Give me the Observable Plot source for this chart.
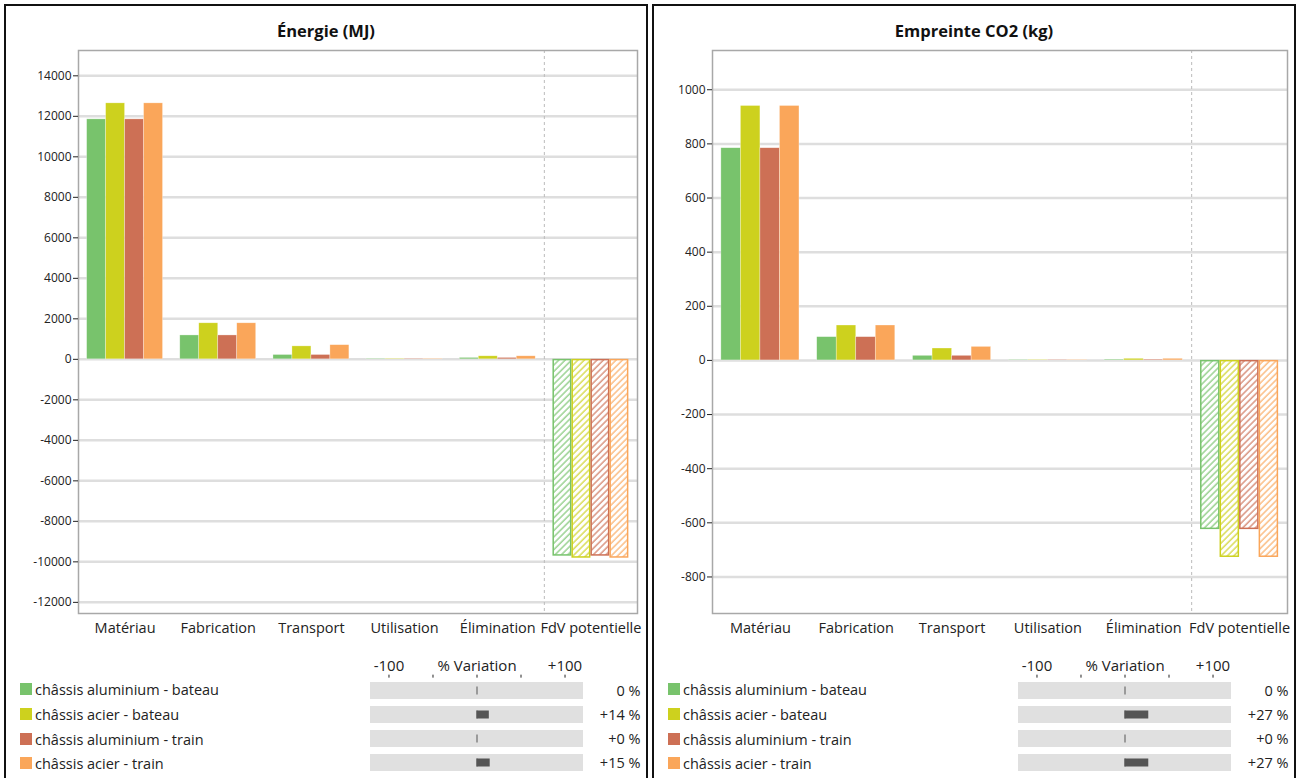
<!DOCTYPE html>
<html><head><meta charset="utf-8">
<script src="https://cdn.jsdelivr.net/npm/d3@7"></script>
<script src="https://cdn.jsdelivr.net/npm/@observablehq/plot@0.6"></script>
<style>
body{margin:0;background:#fff;width:1299px;height:778px;overflow:hidden;font-family:"Open Sans",sans-serif;}
.panel{position:absolute;top:4px;width:640px;height:800px;border:2px solid #111;box-sizing:content-box;}
.title{position:absolute;top:14px;left:0;width:640px;text-align:center;font-weight:bold;font-size:16.5px;line-height:22px;color:#111}
.chart{position:absolute;left:0;top:40px}
.legend{position:absolute;left:0;top:642px}
.row{position:absolute;left:14px;height:20px;font-size:14.5px;color:#222;display:flex;align-items:center;white-space:nowrap}
.sw{width:12px;height:12px;margin-right:3px;flex:none}
</style></head><body>
<div id="left" class="panel" style="left:4px"></div>
<div id="right" class="panel" style="left:652px"></div>
<script>
// ---- data ----
const categories = ["Matériau", "Fabrication", "Transport", "Utilisation", "Élimination", "FdV potentielle"];
const hatchedCategory = "FdV potentielle";
const series = ["châssis aluminium - bateau", "châssis acier - bateau", "châssis aluminium - train", "châssis acier - train"];
const colors = ["#78c36c", "#cdd11e", "#cd7055", "#faa65a"];

const energyAluBateau   = [11850, 1180, 215, 30, 70, -9720];
const energyAcierBateau = [12640, 1780, 640, 30, 150, -9820];
const energyAluTrain    = [11850, 1180, 215, 30, 70, -9720];
const energyAcierTrain  = [12640, 1780, 700, 30, 150, -9820];
const energyTicks = [-12000, -10000, -8000, -6000, -4000, -2000, 0, 2000, 4000, 6000, 8000, 10000, 12000, 14000];
const energyVariation = [0, 14, 0, 15];
const energyVariationLabels = ["0 %", "+14 %", "+0 %", "+15 %"];

const co2AluBateau   = [784, 86, 17, 2, 3, -625];
const co2AcierBateau = [940, 129, 44, 2, 6, -728];
const co2AluTrain    = [784, 86, 17, 2, 3, -625];
const co2AcierTrain  = [940, 129, 50, 2, 6, -728];
const co2Ticks = [-800, -600, -400, -200, 0, 200, 400, 600, 800, 1000];
const co2Variation = [0, 27, 0, 27];
const co2VariationLabels = ["0 %", "+27 %", "+0 %", "+27 %"];

const variationTicks = [-100, -50, 0, 50, 100];

// ---- drawing ----
function chart(id, values, yDomain, yTicks, mLeft, mRight) {
  const rows = [];
  series.forEach((s, i) => categories.forEach((c, j) => rows.push({series: s, si: i, cat: c, ci: j, value: values[i][j]})));
  const gw = 0.815, bw = gw / 4;
  const x1 = d => d.ci - gw / 2 + d.si * bw;
  const x2 = d => x1(d) + bw;
  const solid = rows.filter(d => d.cat !== hatchedCategory);
  const hatched = rows.filter(d => d.cat === hatchedCategory);
  const sepIndex = categories.indexOf(hatchedCategory) - 0.5;
  const svg = Plot.plot({
    width: 640, height: 600,
    marginLeft: mLeft, marginRight: mRight, marginTop: 4, marginBottom: 33,
    x: {domain: [-0.5, categories.length - 0.5], label: null},
    y: {domain: yDomain, label: null},
    color: {domain: series, range: colors},
    style: {fontFamily: "Open Sans, sans-serif", background: "white", overflow: "visible"},
    marks: [
      Plot.gridY(yTicks, {stroke: "#dedede", strokeWidth: 2.5, strokeOpacity: 1}),
      Plot.ruleX([sepIndex], {stroke: "#bbb", strokeDasharray: "3,3"}),
      Plot.rectY(solid, {x1, x2, y1: 0, y2: "value", fill: "series", stroke: "white", strokeOpacity: 0.5, strokeWidth: 0.6}),
      ...series.map((s, i) => Plot.rectY(hatched.filter(d => d.si === i), {
        x1, x2, y1: 0, y2: "value", fill: `url(#${id}-h${i})`, stroke: colors[i], strokeWidth: 1.5, inset: 0.75
      })),
      Plot.frame({stroke: "#a8a8a8", strokeWidth: 1.5}),
      Plot.axisY(yTicks, {tickSize: 5, tickPadding: 2, tickFormat: d => String(d), fontSize: 12, color: "#222", label: null}),
      Plot.axisX(d3.range(categories.length), {tickSize: 0, tickPadding: 9, tickFormat: i => categories[i], fontSize: 14.5, color: "#222", label: null})
    ]
  });
  const defs = d3.select(svg).insert("defs", ":first-child");
  colors.forEach((c, i) => {
    const p = defs.append("pattern").attr("id", `${id}-h${i}`).attr("patternUnits", "userSpaceOnUse")
      .attr("width", 4.5).attr("height", 4.5).attr("patternTransform", "rotate(45)");
    p.append("rect").attr("width", 4.5).attr("height", 4.5).attr("fill", "white");
    p.append("line").attr("x1", 1).attr("y1", 0).attr("x2", 1).attr("y2", 4.5)
      .attr("stroke", c).attr("stroke-width", 1.4).attr("stroke-opacity", 0.8);
  });
  return svg;
}

function legendPlot(variations, labels) {
  const data = series.map((s, i) => ({series: s, v: variations[i], label: labels[i]}));
  return Plot.plot({
    width: 640, height: 130,
    marginLeft: 364, marginRight: 63, marginTop: 28.65, marginBottom: 2.55,
    x: {domain: [-121, 121], label: null},
    y: {domain: series, paddingInner: 0.31, paddingOuter: 0.155, label: null, axis: null},
    style: {fontFamily: "Open Sans, sans-serif", background: "transparent", overflow: "visible"},
    marks: [
      Plot.barX(data, {y: "series", x1: -121, x2: 121, fill: "#e0e0e0"}),
      Plot.tickX(data, {y: "series", x: 0, stroke: "#555", insetTop: 4.5, insetBottom: 4.5}),
      Plot.barX(data.filter(d => d.v !== 0), {y: "series", x1: 0, x2: "v", fill: "#555", insetTop: 4.5, insetBottom: 4.5}),
      Plot.text(data, {y: "series", text: "label", frameAnchor: "right", textAnchor: "end", dx: 57, fontSize: 14.5, fill: "#222"}),
      Plot.axisX(variationTicks, {anchor: "top", tickSize: 3, tickPadding: 3, fontSize: 15, color: "#222", label: null,
        tickFormat: d => d === 0 ? "% Variation" : d === -100 ? "-100" : d === 100 ? "+100" : ""})
    ]
  });
}

function panel(elId, title, values, yDomain, yTicks, mLeft, mRight, variations, varLabels) {
  const el = document.getElementById(elId);
  const t = document.createElement("div");
  t.className = "title"; t.textContent = title; el.appendChild(t);
  const c = document.createElement("div");
  c.className = "chart"; c.appendChild(chart(elId, values, yDomain, yTicks, mLeft, mRight)); el.appendChild(c);
  const l = document.createElement("div");
  l.className = "legend"; l.appendChild(legendPlot(variations, varLabels)); el.appendChild(l);
  const centers = [683, 708, 733, 757];
  series.forEach((s, i) => {
    const r = document.createElement("div");
    r.className = "row"; r.style.top = (centers[i] - 10) + "px";
    const sw = document.createElement("div"); sw.className = "sw"; sw.style.background = colors[i];
    const tx = document.createElement("span"); tx.textContent = s;
    r.appendChild(sw); r.appendChild(tx); el.appendChild(r);
  });
}

panel("left", "Énergie (MJ)",
  [energyAluBateau, energyAcierBateau, energyAluTrain, energyAcierTrain],
  [-12550, 15250], energyTicks, 72, 9, energyVariation, energyVariationLabels);
panel("right", "Empreinte CO2 (kg)",
  [co2AluBateau, co2AcierBateau, co2AluTrain, co2AcierTrain],
  [-935, 1145], co2Ticks, 58, 7, co2Variation, co2VariationLabels);
</script></body></html>
